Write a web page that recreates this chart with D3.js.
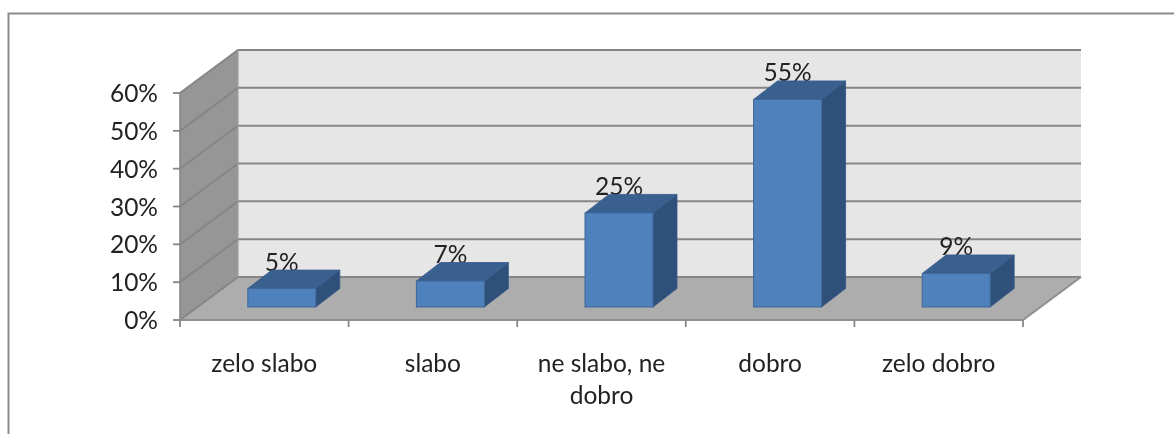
<!DOCTYPE html>
<html><head><meta charset="utf-8">
<script src="https://cdn.jsdelivr.net/npm/d3@7/dist/d3.min.js"></script>
<style>html,body{margin:0;padding:0;background:#fff}svg{display:block;filter:blur(.45px)}text{font-family:Lato,sans-serif;fill:#222}</style>
</head><body><svg id="c" width="1174" height="434"></svg>
<script>
const categories = ["zelo slabo","slabo","ne slabo, ne dobro","dobro","zelo dobro"];
const categoryLines = [["zelo slabo"],["slabo"],["ne slabo, ne","dobro"],["dobro"],["zelo dobro"]];
const values = [0.05,0.07,0.25,0.55,0.09];
const valueLabels = ["5%","7%","25%","55%","9%"];
const yTicks = [0,0.1,0.2,0.3,0.4,0.5,0.6];

const svg = d3.select("#c");
const x = d3.scaleBand().domain(categories).range([180,1023]);
const y = d3.scaleLinear().domain([0,0.6]).range([320,93]);
const wallDx = 58, wallDy = -43;
const barW = 68, barOffX = 18, barOffY = -13, barDx = 24, barDy = -18.5;
const fontSize = 24.5;
const pts = a => a.map(p=>p.join(",")).join(" ");
const grid = "#868686";

// frame
svg.append("path").attr("d","M8.5,434V13.5H1174").attr("fill","none").attr("stroke","#8c8c8c").attr("stroke-width",2);

const [x0,x1] = x.range();
const y0 = y(0), yT = y(0.6);
// back wall
svg.append("rect").attr("x",x0+wallDx).attr("y",yT+wallDy).attr("width",x1-x0).attr("height",y0-yT).attr("fill","#e6e6e6");
// side wall
svg.append("polygon").attr("points",pts([[x0,y0],[x0+wallDx,y0+wallDy],[x0+wallDx,yT+wallDy],[x0,yT]])).attr("fill","#969696");
// floor
svg.append("polygon").attr("points",pts([[x0,y0],[x1,y0],[x1+wallDx,y0+wallDy],[x0+wallDx,y0+wallDy]])).attr("fill","#adadad");
// gridlines
svg.selectAll("path.g").data(yTicks).join("path").attr("class","g").attr("fill","none").attr("stroke",grid).attr("stroke-width",2)
  .attr("d",t=>`M${x0},${y(t)}L${x0+wallDx},${y(t)+wallDy}L${x1+wallDx},${y(t)+wallDy}`);
// floor front edges
svg.append("path").attr("d",`M${x0},${y0}L${x1},${y0}L${x1+wallDx},${y0+wallDy}`).attr("fill","none").attr("stroke","#909090").attr("stroke-width",2);
svg.append("line").attr("x1",x0).attr("x2",x0).attr("y1",y0).attr("y2",yT).attr("stroke",grid).attr("stroke-width",1.6);
svg.append("line").attr("x1",x0+wallDx).attr("x2",x0+wallDx).attr("y1",y0+wallDy).attr("y2",yT+wallDy).attr("stroke","#a0a0a0").attr("stroke-width",1.2);

// ticks
svg.selectAll("line.xt").data(d3.range(categories.length+1)).join("line").attr("class","xt")
  .attr("x1",i=>x0+i*x.step()).attr("x2",i=>x0+i*x.step()).attr("y1",y0).attr("y2",y0+7).attr("stroke",grid).attr("stroke-width",1.8);
svg.selectAll("line.yt").data(yTicks).join("line").attr("class","yt")
  .attr("x1",x0-7).attr("x2",x0).attr("y1",d=>y(d)).attr("y2",d=>y(d)).attr("stroke",grid).attr("stroke-width",1.8);

// y labels
svg.selectAll("text.yl").data(yTicks).join("text").attr("class","yl").attr("x",158).attr("y",d=>y(d)+9)
  .attr("text-anchor","end").attr("font-size",fontSize).text(d3.format(".0%"));

// bars
const bars = svg.selectAll("g.b").data(categories).join("g").attr("class","b");
bars.each(function(c,i){
  const g = d3.select(this);
  const l = x(c)+(x.bandwidth()-barW)/2+barOffX-0.5, r = l+barW;
  const b = y0+barOffY, t = b-(y0-y(values[i]))+0.5;
  g.append("text").attr("x",l+barW/2).attr("y",t-18).attr("text-anchor","middle").attr("font-size",fontSize).text(valueLabels[i]);
  g.append("polygon").attr("points",pts([[r,b],[r+barDx,b+barDy],[r+barDx,t+barDy],[r,t]])).attr("fill","#2f5078").attr("stroke","#36598a").attr("stroke-width",.8);
  g.append("polygon").attr("points",pts([[l,t],[r,t],[r+barDx,t+barDy],[l+barDx,t+barDy]])).attr("fill","#3a6090").attr("stroke","#36598a").attr("stroke-width",.8);
  g.append("rect").attr("x",l).attr("y",t).attr("width",barW).attr("height",b-t).attr("fill","#4f81bd").attr("stroke","#3f6797").attr("stroke-width",1);
});

// category labels
categoryLines.forEach((lines,i)=>{
  const cx = x(categories[i])+x.bandwidth()/2;
  lines.forEach((s,j)=>svg.append("text").attr("x",cx).attr("y",372+j*32).attr("text-anchor","middle").attr("font-size",fontSize).text(s));
});
</script></body></html>
